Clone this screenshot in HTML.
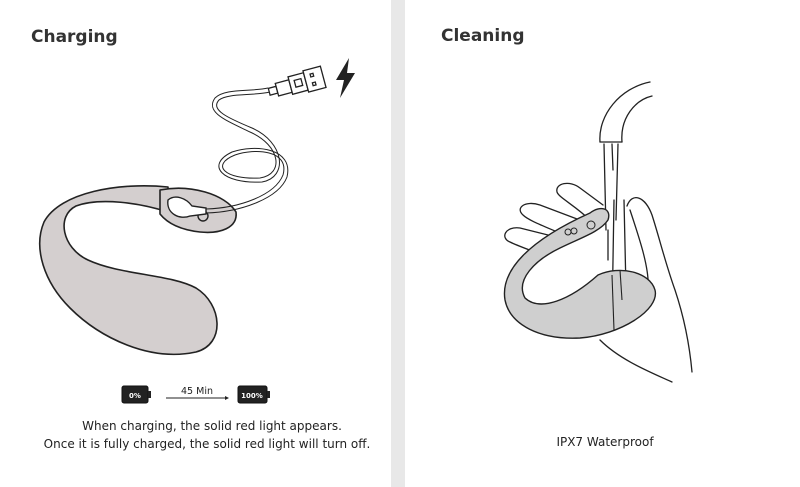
<!DOCTYPE html>
<html><head><meta charset="utf-8"><style>
body{margin:0;width:800px;height:487px;background:#fff;overflow:hidden;font-family:"DejaVu Sans","Liberation Sans",sans-serif}
</style></head><body>
<svg width="800" height="487" viewBox="0 0 800 487" xmlns="http://www.w3.org/2000/svg" style="position:absolute;left:0;top:0" font-family="DejaVu Sans,Liberation Sans,sans-serif">
<rect x="391" y="0" width="14" height="487" fill="#e8e8e8"/>
<text x="31" y="42" font-size="17" font-weight="bold" fill="#333">Charging</text>
<text x="441" y="41" font-size="17" font-weight="bold" fill="#333">Cleaning</text>
<g stroke="#222" stroke-width="1.6" fill="#d4cfcf" stroke-linejoin="round">
<path d="M168,187 C120,182 60,192 44,222 C33,248 44,282 70,308 C100,338 150,362 196,352 C226,344 222,304 196,288 C170,274 120,275 88,260 C62,248 56,216 76,206 C100,197 140,203 168,212 Z"/>
<path d="M160,190 C190,184 225,194 236,212 C238,228 220,234 200,232 C182,230 168,224 160,214 Z"/>
</g>
<circle cx="203" cy="216" r="5" fill="#d4cfcf" stroke="#222" stroke-width="1.4"/>
<path d="M168,200 C175,194 186,198 192,206 L206,208 L206,214 L190,216 C180,220 166,214 168,200 Z" fill="#fff" stroke="#222" stroke-width="1.4"/>
<g fill="none" stroke="#222" stroke-width="1">
<path d="M206,209 C240,208 275,195 283,175 C290,150 255,148 235,155 C210,165 225,180 260,178 C285,174 280,145 250,132 C225,120 205,112 215,98 C225,88 250,92 268,88"/>
<path d="M206,213 C242,212 279,198 287,177 C294,148 255,144 232,152 C205,165 222,184 262,182 C289,177 284,142 252,128 C228,118 210,110 219,100 C228,93 252,96 270,92"/>
</g>
<g transform="rotate(-15 300 83)" stroke="#222" stroke-width="1.3" fill="#fff">
<rect x="268" y="80" width="8" height="7"/>
<rect x="276" y="77" width="14" height="13"/>
<rect x="290" y="74" width="16" height="18"/>
<rect x="306" y="72" width="18" height="22"/>
<rect x="295" y="79" width="7" height="7"/>
<rect x="312" y="77" width="3" height="3"/><rect x="312" y="86" width="3" height="3"/>
</g>
<path d="M349,58 L336,80 L344,80 L340,98 L355,73 L347,73 Z" fill="#222"/>
<g>
<rect x="122" y="386" width="26" height="17" rx="2" fill="#222" stroke="#111"/>
<rect x="148" y="391" width="3" height="7" fill="#222"/>
<text x="135" y="398" font-size="7" fill="#fff" text-anchor="middle" font-weight="bold">0%</text>
<text x="197" y="394" font-size="9.5" fill="#222" text-anchor="middle">45 Min</text>
<line x1="166" y1="398" x2="225" y2="398" stroke="#222" stroke-width="1"/>
<path d="M225,396 L229,398 L225,400 Z" fill="#222"/>
<rect x="238" y="386" width="29" height="17" rx="2" fill="#222" stroke="#111"/>
<rect x="267" y="391" width="3" height="7" fill="#222"/>
<text x="252" y="398" font-size="7" fill="#fff" text-anchor="middle" font-weight="bold">100%</text>
</g>
<text x="212" y="430" font-size="12" fill="#222" text-anchor="middle">When charging, the solid red light appears.</text>
<text x="207" y="448" font-size="12" fill="#222" text-anchor="middle">Once it is fully charged, the solid red light will turn off.</text>
<text x="605" y="446" font-size="12" fill="#222" text-anchor="middle">IPX7 Waterproof</text>
<g fill="none" stroke="#222" stroke-width="1.3" stroke-linecap="round">
<path d="M600,142 C598,115 620,88 650,82"/>
<path d="M622,142 C620,118 635,100 652,96"/>
<path d="M600,142 L622,142"/>
<path d="M604,144 L606,230 M612,144 L613,170 M618,144 L616,220 M624,200 L626,290 M614,200 L612,320 M608,230 L608,260"/>
<path d="M603,205 L580,188 C570,180 555,183 557,192 C559,198 575,205 592,222"/>
<path d="M585,222 L540,205 C525,200 515,208 523,215 C530,222 555,230 575,240"/>
<path d="M560,238 L520,228 C505,226 500,238 510,242 C518,246 530,250 545,256"/>
<path d="M627,206 C632,192 645,196 652,215 C660,240 665,262 675,290 C685,320 690,350 692,372"/>
<path d="M630,210 C640,240 650,270 648,290"/>
<path d="M600,340 C620,360 650,372 672,382"/>
</g>
<g stroke="#222" stroke-width="1.4" fill="#cfcfcf">
<path d="M590,213 C600,205 612,208 608,220 C600,232 580,238 560,248 C535,260 515,280 525,298 C540,312 570,300 598,275 C620,265 650,272 655,290 C660,310 620,335 580,338 C540,340 510,325 505,300 C500,270 530,240 590,213 Z"/>
</g>
<circle cx="574" cy="231" r="3" fill="none" stroke="#222"/><circle cx="568" cy="232" r="3" fill="none" stroke="#222"/>
<circle cx="591" cy="225" r="4" fill="none" stroke="#222"/>
<g stroke="#222" stroke-width="1.1"><line x1="612" y1="275" x2="614" y2="330"/><line x1="620" y1="270" x2="622" y2="300"/></g>
</svg>
</body></html>
